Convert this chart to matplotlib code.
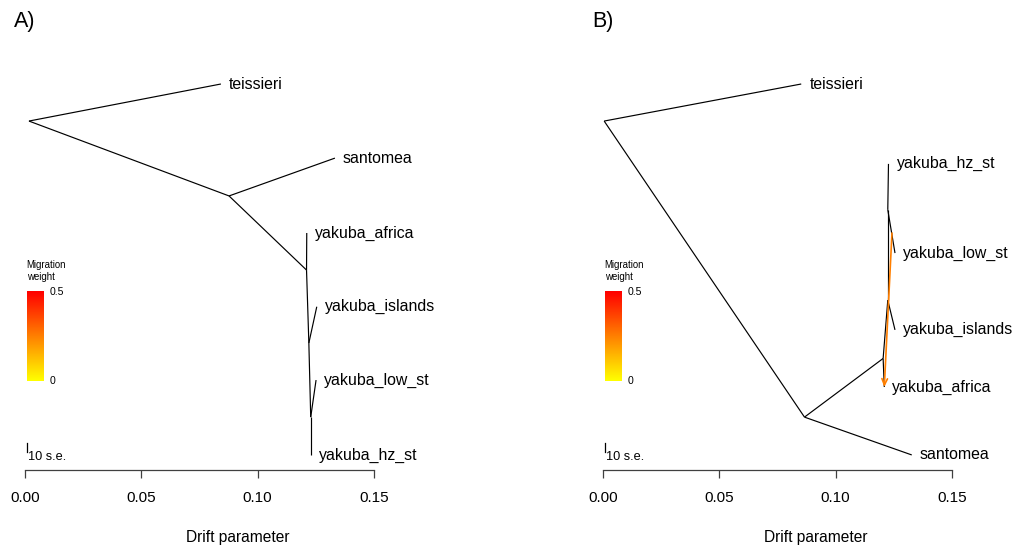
import numpy as np
import matplotlib
matplotlib.use("Agg")
import matplotlib.pyplot as plt
from matplotlib.colors import LinearSegmentedColormap

plt.rcParams["font.family"] = ["Liberation Sans", "DejaVu Sans"]

# ---- tree A (no migration) : node -> (drift, vertical position) ----
a_nodes = ["root", "n1", "n2", "n3", "n4",
           "teissieri", "santomea", "yakuba_africa", "yakuba_islands",
           "yakuba_low_st", "yakuba_hz_st"]
a_x = [0.0017, 0.0877, 0.1210, 0.1220, 0.1228,
       0.0842, 0.1332, 0.1211, 0.1254, 0.1251, 0.1228]
a_y = [0.904, 0.710, 0.518, 0.329, 0.137,
       1.000, 0.808, 0.614, 0.423, 0.233, 0.039]
a_edges = [("root", "teissieri"), ("root", "n1"), ("n1", "santomea"),
           ("n1", "n2"), ("n2", "yakuba_africa"), ("n2", "n3"),
           ("n3", "yakuba_islands"), ("n3", "n4"),
           ("n4", "yakuba_low_st"), ("n4", "yakuba_hz_st")]

# ---- tree B (one migration edge) ----
b_nodes = ["root", "n1", "n2", "n3", "n4",
           "teissieri", "santomea", "yakuba_africa", "yakuba_islands",
           "yakuba_low_st", "yakuba_hz_st"]
b_x = [0.0005, 0.0866, 0.1204, 0.1224, 0.1224,
       0.0852, 0.1327, 0.1209, 0.1255, 0.1255, 0.1227]
b_y = [0.904, 0.137, 0.289, 0.440, 0.674,
       1.000, 0.039, 0.215, 0.363, 0.562, 0.793]
b_edges = [("root", "teissieri"), ("root", "n1"), ("n1", "santomea"),
           ("n1", "n2"), ("n2", "yakuba_africa"), ("n2", "n3"),
           ("n3", "yakuba_islands"), ("n3", "n4"),
           ("n4", "yakuba_low_st"), ("n4", "yakuba_hz_st")]
mig_from = (0.1242, 0.614)
mig_to = "yakuba_africa"
mig_weight = 0.25

xticks = [0.00, 0.05, 0.10, 0.15]
wmax = 0.5

heat = LinearSegmentedColormap.from_list("mig", ["#FFFF00", "#FF0000"])

fig = plt.figure(figsize=(10.13, 5.5), dpi=100)
W, H = 1013, 550


def panel(x0_px, letter, nodes, xs, ys, edges, mig=None):
    # axes: drift 0..0.15 spans 349 px, y 0..1 spans the tree height
    ax = fig.add_axes([x0_px / W, (H - 470) / H, 349 / W, 386 / H])
    ax.set_xlim(0, 0.15)
    ax.set_ylim(0, 1)
    pos = {n: (x, y) for n, x, y in zip(nodes, xs, ys)}
    for a, b in edges:
        ax.plot([pos[a][0], pos[b][0]], [pos[a][1], pos[b][1]],
                color="black", lw=0.85, solid_capstyle="butt", clip_on=False)
    for n in nodes:
        if n.startswith("n") or n == "root":
            continue
        ax.annotate(n, pos[n], xytext=(5.8, 0), textcoords="offset points",
                    va="center", ha="left", fontsize=11.4, annotation_clip=False)
    if mig is not None:
        src, dst, w = mig
        ax.annotate("", xy=pos[dst], xytext=src, annotation_clip=False,
                    arrowprops=dict(arrowstyle="->,head_length=0.45,head_width=0.2",
                                    color=heat(w / wmax), lw=1.2,
                                    shrinkA=0, shrinkB=0), zorder=5)

    # migration weight legend
    grad = np.linspace(0, 1, 100).reshape(-1, 1)
    ax.imshow(grad, cmap=heat, origin="lower", aspect="auto",
              extent=(0.0007, 0.0076, 0.230, 0.462), clip_on=False, zorder=1)
    ax.text(0.0007, 0.531, "Migration", fontsize=6.9, va="center", ha="left")
    ax.text(0.0007, 0.500, "weight", fontsize=6.9, va="center", ha="left")
    ax.text(0.0104, 0.460, f"{wmax}", fontsize=7.6, va="center", ha="left")
    ax.text(0.0104, 0.231, "0", fontsize=7.6, va="center", ha="left")

    # 10 s.e. scale mark
    ax.plot([0.0007, 0.0007], [0.071, 0.047], color="black", lw=0.9, clip_on=False)
    ax.text(0.0014, 0.034, "10 s.e.", fontsize=9.2, va="center", ha="left")

    for s in ("top", "right", "left"):
        ax.spines[s].set_visible(False)
    ax.spines["bottom"].set_bounds(0, 0.15)
    ax.spines["bottom"].set_color("#404040")
    ax.spines["bottom"].set_linewidth(0.9)
    ax.set_yticks([])
    ax.set_xticks(xticks)
    ax.set_xticklabels([f"{t:.2f}" for t in xticks], fontsize=11)
    ax.tick_params(axis="x", length=5.8, width=0.9, color="#404040", pad=9)
    ax.patch.set_visible(False)
    ax.text(0.61, -0.174, "Drift parameter", transform=ax.transAxes,
            fontsize=11.2, ha="center", va="center")
    fig.text((x0_px - 11) / W, 1 - 21 / H, letter, fontsize=15.5,
             ha="left", va="center")
    return ax


panel(25, "A)", a_nodes, a_x, a_y, a_edges)
panel(603, "B)", b_nodes, b_x, b_y, b_edges, mig=(mig_from, mig_to, mig_weight))

fig.savefig("out.png", dpi=100)
